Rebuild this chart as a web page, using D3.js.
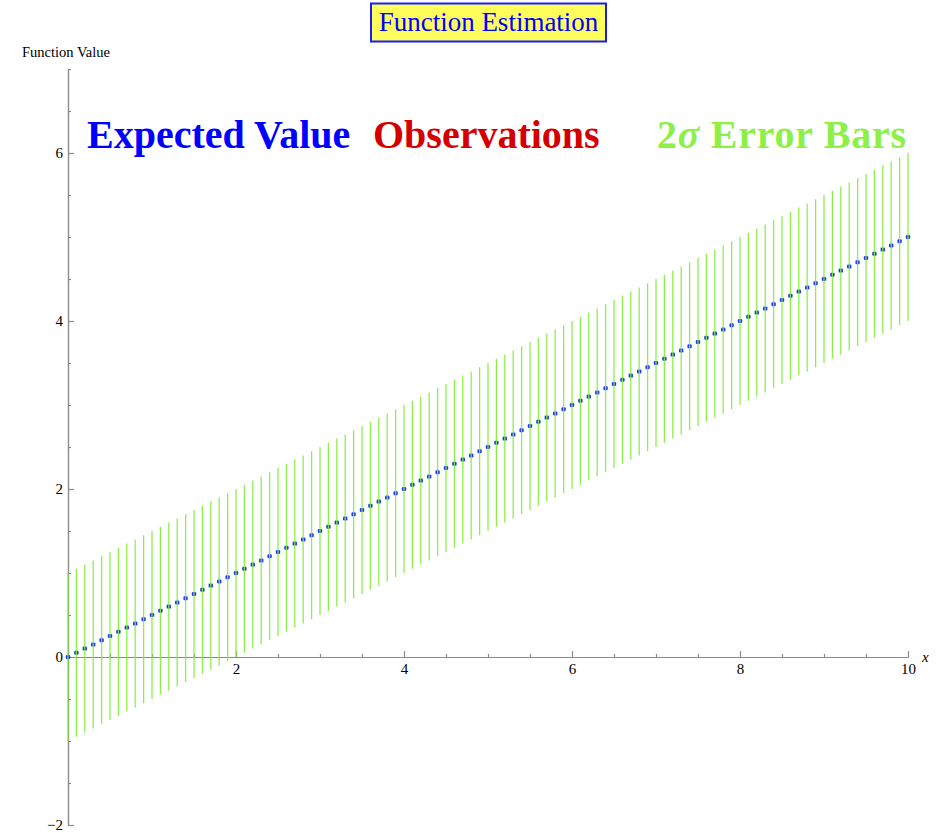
<!DOCTYPE html>
<html>
<head>
<meta charset="utf-8">
<script src="https://cdn.jsdelivr.net/npm/d3@7"></script>
<style>
  html, body { margin: 0; padding: 0; background: #fff; }
  svg { display: block; }
</style>
</head>
<body>
<svg id="chart" width="942" height="833"></svg>
<script>
// ---- data ----
const xValues = [0,0.1,0.2,0.3,0.4,0.5,0.6,0.7,0.8,0.9,
  1,1.1,1.2,1.3,1.4,1.5,1.6,1.7,1.8,1.9,
  2,2.1,2.2,2.3,2.4,2.5,2.6,2.7,2.8,2.9,
  3,3.1,3.2,3.3,3.4,3.5,3.6,3.7,3.8,3.9,
  4,4.1,4.2,4.3,4.4,4.5,4.6,4.7,4.8,4.9,
  5,5.1,5.2,5.3,5.4,5.5,5.6,5.7,5.8,5.9,
  6,6.1,6.2,6.3,6.4,6.5,6.6,6.7,6.8,6.9,
  7,7.1,7.2,7.3,7.4,7.5,7.6,7.7,7.8,7.9,
  8,8.1,8.2,8.3,8.4,8.5,8.6,8.7,8.8,8.9,
  9,9.1,9.2,9.3,9.4,9.5,9.6,9.7,9.8,9.9,10];
const expectedValues = [0,0.05,0.1,0.15,0.2,0.25,0.3,0.35,0.4,0.45,
  0.5,0.55,0.6,0.65,0.7,0.75,0.8,0.85,0.9,0.95,
  1,1.05,1.1,1.15,1.2,1.25,1.3,1.35,1.4,1.45,
  1.5,1.55,1.6,1.65,1.7,1.75,1.8,1.85,1.9,1.95,
  2,2.05,2.1,2.15,2.2,2.25,2.3,2.35,2.4,2.45,
  2.5,2.55,2.6,2.65,2.7,2.75,2.8,2.85,2.9,2.95,
  3,3.05,3.1,3.15,3.2,3.25,3.3,3.35,3.4,3.45,
  3.5,3.55,3.6,3.65,3.7,3.75,3.8,3.85,3.9,3.95,
  4,4.05,4.1,4.15,4.2,4.25,4.3,4.35,4.4,4.45,
  4.5,4.55,4.6,4.65,4.7,4.75,4.8,4.85,4.9,4.95,5];
const sigma = 0.5;                 // error bars span ±2σ
const xTickValues = [2,4,6,8,10];
const yTickValues = [-2,0,2,4,6];
const xMinorTicks = [0.5,1,1.5,2.5,3,3.5,4.5,5,5.5,6.5,7,7.5,8.5,9,9.5];
const yMinorTicks = [-1.5,-1,-0.5,0.5,1,1.5,2.5,3,3.5,4.5,5,5.5,6.5,7];
const legendLabels = ["Expected Value", "Observations", "2σ Error Bars"];
const titleText = "Function Estimation";
const yAxisLabel = "Function Value";
const xAxisLabel = "x";

// ---- drawing ----
const svg = d3.select("#chart");
const serif = "'Liberation Serif','Times New Roman',Times,serif";
const axisColor = "#8a8a8a";
const barColor = "rgb(128,240,50)";

const x = d3.scaleLinear().domain([0, 10]).range([68, 908]);
const y = d3.scaleLinear().domain([-2, 7]).range([825, 69]);

function styleAxis(g) {
  g.select(".domain").attr("stroke", axisColor).attr("stroke-width", 1.2);
  g.selectAll(".tick line").attr("stroke", axisColor).attr("stroke-width", 1.2);
  g.selectAll(".tick text").attr("fill", "#000").style("font-family", serif).style("font-size", "15px");
}

// minor ticks
svg.append("g").attr("transform", `translate(0,${y(0)})`)
  .call(d3.axisBottom(x).tickValues(xMinorTicks).tickSize(-3).tickSizeOuter(0).tickFormat(""))
  .call(styleAxis);
svg.append("g").attr("transform", `translate(${x(0)},0)`)
  .call(d3.axisLeft(y).tickValues(yMinorTicks).tickSize(-3).tickSizeOuter(0).tickFormat(""))
  .call(styleAxis);

// major axes
svg.append("g").attr("transform", `translate(0,${y(0)})`)
  .call(d3.axisBottom(x).tickValues(xTickValues).tickSize(-6).tickSizeOuter(0).tickPadding(6).tickFormat(d3.format("d")))
  .call(styleAxis);
svg.append("g").attr("transform", `translate(${x(0)},0)`)
  .call(d3.axisLeft(y).tickValues(yTickValues).tickSize(-6).tickSizeOuter(0).tickPadding(5)
    .tickFormat(d => d < 0 ? "\u2212" + Math.abs(d) : String(d)))
  .call(styleAxis);

// axis labels
svg.append("text").attr("x", 22).attr("y", 57)
  .style("font-family", serif).style("font-size", "14.5px").attr("fill", "#000").text(yAxisLabel);
svg.append("text").attr("x", 922).attr("y", 662)
  .style("font-family", serif).style("font-size", "15px").style("font-style", "italic").attr("fill", "#000").text(xAxisLabel);

const pts = xValues.map((xv, i) => ({ x: xv, y: expectedValues[i] }));

// expected value points
svg.append("g").selectAll("rect").data(pts).join("rect")
  .attr("x", d => x(d.x) - 2.2).attr("y", d => y(d.y) - 2)
  .attr("width", 4.4).attr("height", 4)
  .attr("rx", 1.2)
  .attr("fill", "#1f3cf5");

// error bars
svg.append("g").selectAll("line").data(pts).join("line")
  .attr("x1", d => x(d.x)).attr("x2", d => x(d.x))
  .attr("y1", d => y(d.y - 2 * sigma)).attr("y2", d => y(d.y + 2 * sigma))
  .attr("stroke", barColor).attr("stroke-width", 1.3).attr("stroke-opacity", 0.9);

// legend
const legend = svg.append("g").style("font-family", serif).style("font-weight", "bold").style("font-size", "40px");
legend.append("text").attr("x", 87).attr("y", 148).attr("fill", "#0000ff").text(legendLabels[0]);
legend.append("text").attr("x", 373).attr("y", 148).attr("fill", "#d40000").text(legendLabels[1]);
const eb = legend.append("text").attr("x", 657).attr("y", 148).attr("fill", "#8cf046")
  .attr("textLength", 249).attr("lengthAdjust", "spacing");
eb.append("tspan").text(legendLabels[2].slice(0, 1));
eb.append("tspan").style("font-style", "italic").text(legendLabels[2].slice(1, 2));
eb.append("tspan").text(legendLabels[2].slice(2));

// title box
const titleG = svg.append("g");
titleG.append("rect").attr("x", 371).attr("y", 3.5).attr("width", 235).attr("height", 38)
  .attr("fill", "#ffff5c").attr("stroke", "#1a1aff").attr("stroke-width", 2);
titleG.append("text").attr("x", 488.5).attr("y", 31).attr("text-anchor", "middle")
  .style("font-family", serif).style("font-size", "27px").attr("fill", "#0000ff").text(titleText);
</script>
</body>
</html>
